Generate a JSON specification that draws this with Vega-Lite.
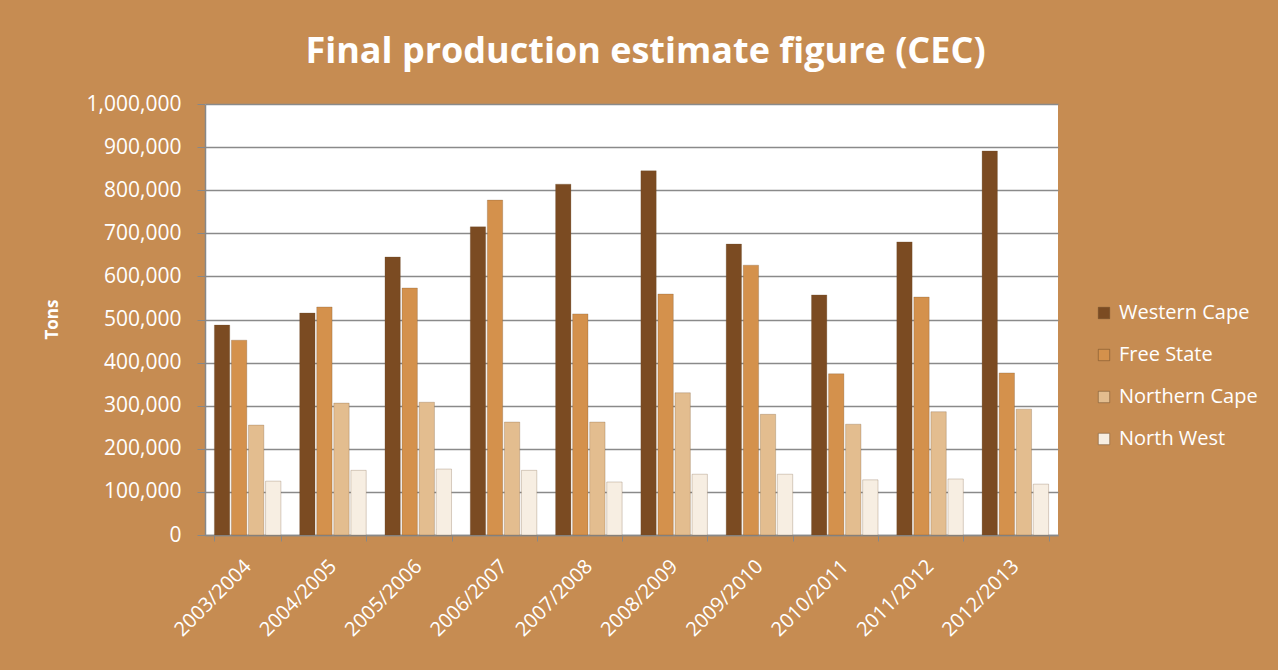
{
  "$schema": "https://vega.github.io/schema/vega-lite/v6.json",
  "width": 853,
  "height": 431,
  "autosize": {"type": "none"},
  "padding": {"left": 205, "top": 104, "right": 220, "bottom": 135},
  "background": "#c68c52",
  "title": {
    "text": "Final production estimate figure (CEC)",
    "anchor": "middle",
    "frame": "group",
    "dx": 14,
    "offset": 22,
    "font": "Open Sans",
    "fontSize": 36,
    "fontWeight": "bold",
    "color": "#ffffff"
  },
  "config": {
    "view": {"fill": "#ffffff", "stroke": null},
    "font": "Open Sans"
  },
  "data": {
    "values": [
      {"period": "2003/2004", "region": "Western Cape", "tons": 487000},
      {"period": "2003/2004", "region": "Free State", "tons": 452000},
      {"period": "2003/2004", "region": "Northern Cape", "tons": 255000},
      {"period": "2003/2004", "region": "North West", "tons": 125000},
      {"period": "2004/2005", "region": "Western Cape", "tons": 515000},
      {"period": "2004/2005", "region": "Free State", "tons": 529000},
      {"period": "2004/2005", "region": "Northern Cape", "tons": 306000},
      {"period": "2004/2005", "region": "North West", "tons": 150000},
      {"period": "2005/2006", "region": "Western Cape", "tons": 645000},
      {"period": "2005/2006", "region": "Free State", "tons": 573000},
      {"period": "2005/2006", "region": "Northern Cape", "tons": 308000},
      {"period": "2005/2006", "region": "North West", "tons": 153000},
      {"period": "2006/2007", "region": "Western Cape", "tons": 715000},
      {"period": "2006/2007", "region": "Free State", "tons": 777000},
      {"period": "2006/2007", "region": "Northern Cape", "tons": 262000},
      {"period": "2006/2007", "region": "North West", "tons": 150000},
      {"period": "2007/2008", "region": "Western Cape", "tons": 814000},
      {"period": "2007/2008", "region": "Free State", "tons": 513000},
      {"period": "2007/2008", "region": "Northern Cape", "tons": 262000},
      {"period": "2007/2008", "region": "North West", "tons": 123000},
      {"period": "2008/2009", "region": "Western Cape", "tons": 845000},
      {"period": "2008/2009", "region": "Free State", "tons": 559000},
      {"period": "2008/2009", "region": "Northern Cape", "tons": 330000},
      {"period": "2008/2009", "region": "North West", "tons": 141000},
      {"period": "2009/2010", "region": "Western Cape", "tons": 675000},
      {"period": "2009/2010", "region": "Free State", "tons": 626000},
      {"period": "2009/2010", "region": "Northern Cape", "tons": 280000},
      {"period": "2009/2010", "region": "North West", "tons": 141000},
      {"period": "2010/2011", "region": "Western Cape", "tons": 557000},
      {"period": "2010/2011", "region": "Free State", "tons": 374000},
      {"period": "2010/2011", "region": "Northern Cape", "tons": 257000},
      {"period": "2010/2011", "region": "North West", "tons": 128000},
      {"period": "2011/2012", "region": "Western Cape", "tons": 680000},
      {"period": "2011/2012", "region": "Free State", "tons": 552000},
      {"period": "2011/2012", "region": "Northern Cape", "tons": 286000},
      {"period": "2011/2012", "region": "North West", "tons": 130000},
      {"period": "2012/2013", "region": "Western Cape", "tons": 891000},
      {"period": "2012/2013", "region": "Free State", "tons": 376000},
      {"period": "2012/2013", "region": "Northern Cape", "tons": 292000},
      {"period": "2012/2013", "region": "North West", "tons": 118000}
    ]
  },
  "mark": {"type": "bar", "stroke": "#6b4a2a", "strokeWidth": 0.5, "strokeOpacity": 0.5},
  "encoding": {
    "x": {
      "field": "period",
      "type": "nominal",
      "sort": null,
      "scale": {"paddingInner": 0.22, "paddingOuter": 0.11},
      "axis": {
        "title": null,
        "labelAngle": -45,
        "labelAlign": "right",
        "labelBaseline": "middle",
        "labelFontSize": 20,
        "labelColor": "#ffffff",
        "labelPadding": 22,
        "tickBand": "extent",
        "tickColor": "#888888",
        "tickSize": 6,
        "domainColor": "#888888",
        "domainWidth": 1.5
      }
    },
    "xOffset": {
      "field": "region",
      "type": "nominal",
      "sort": ["Western Cape", "Free State", "Northern Cape", "North West"],
      "scale": {"paddingInner": 0.1}
    },
    "y": {
      "field": "tons",
      "type": "quantitative",
      "scale": {"domain": [0, 1000000], "nice": false},
      "axis": {
        "title": "Tons",
        "titleFontSize": 17,
        "titleFontWeight": "bold",
        "titleColor": "#ffffff",
        "titleX": -153,
        "titleY": 215,
        "titleAngle": -90,
        "titleAlign": "center",
        "titleBaseline": "middle",
        "values": [0, 100000, 200000, 300000, 400000, 500000, 600000, 700000, 800000, 900000, 1000000],
        "format": ",d",
        "labelFontSize": 21,
        "labelColor": "#ffffff",
        "labelPadding": 16,
        "grid": true,
        "gridColor": "#8a8a8a",
        "gridWidth": 1.5,
        "tickColor": "#888888",
        "tickSize": 8,
        "domainColor": "#888888",
        "domainWidth": 1.5
      }
    },
    "color": {
      "field": "region",
      "type": "nominal",
      "sort": ["Western Cape", "Free State", "Northern Cape", "North West"],
      "scale": {
        "domain": ["Western Cape", "Free State", "Northern Cape", "North West"],
        "range": ["#7b4b22", "#d4914c", "#e3bd8f", "#f7eee2"]
      },
      "legend": {
        "title": null,
        "orient": "none",
        "legendX": 889,
        "legendY": 199,
        "symbolType": "square",
        "symbolSize": 130,
        "symbolStrokeWidth": 0.5,
        "symbolStrokeColor": "#6b4a2a",
        "labelFontSize": 20,
        "labelColor": "#ffffff",
        "rowPadding": 22,
        "labelOffset": 5
      }
    }
  }
}
